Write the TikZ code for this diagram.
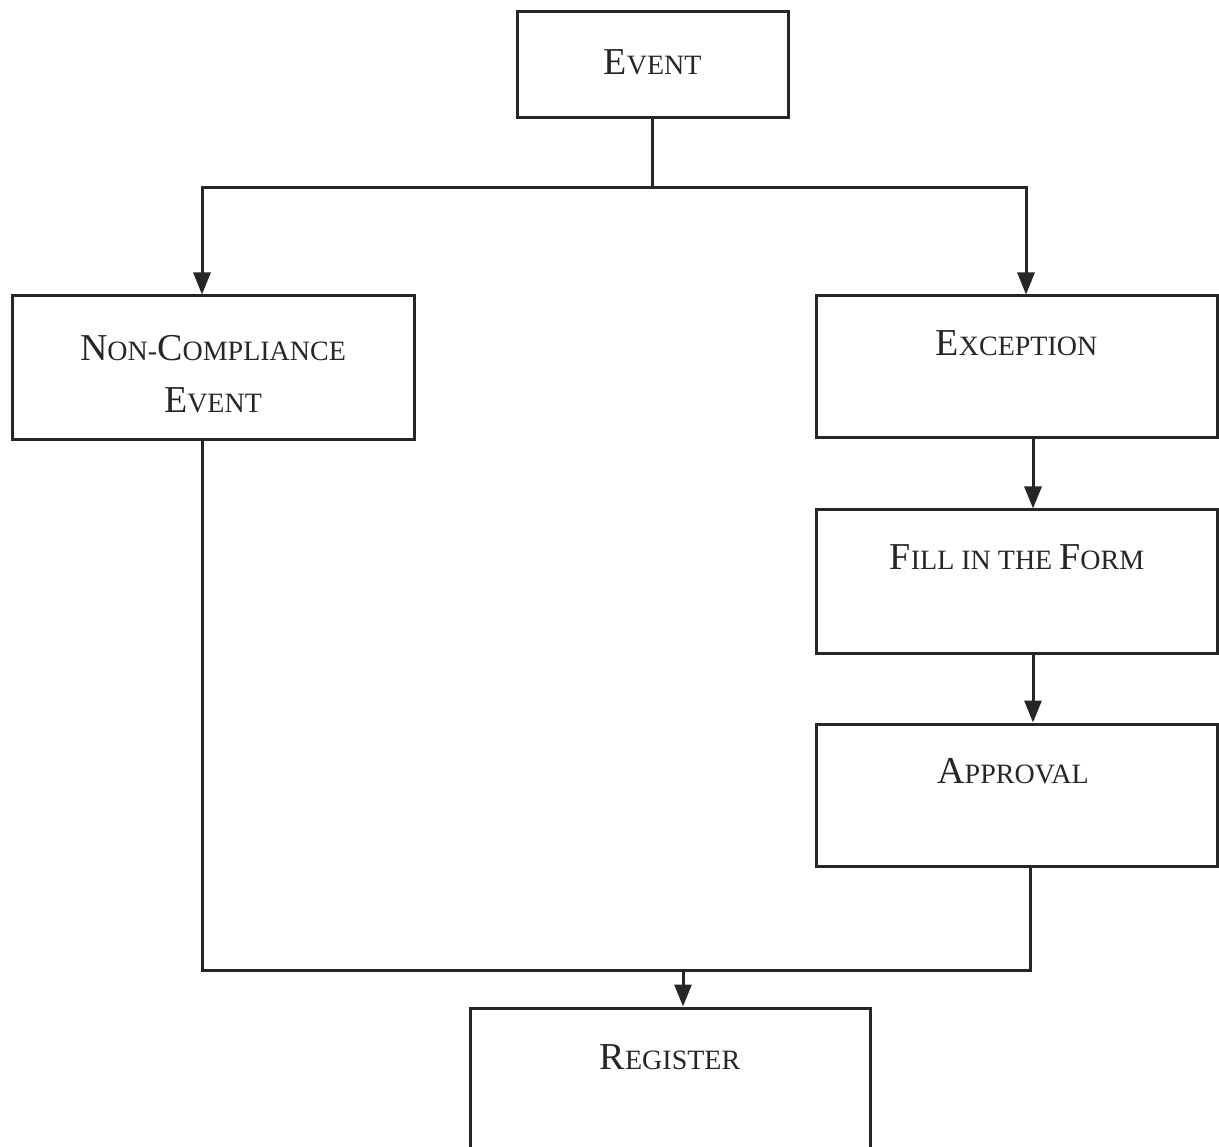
\documentclass[tikz,border=0pt]{standalone}
\usepackage{fontspec}
\setmainfont{Liberation Serif}
\usetikzlibrary{arrows.meta}
\newcommand\bigc[1]{{\fontsize{38}{52}\selectfont #1}}
\newcommand\smc[1]{{\fontsize{28}{52}\selectfont #1}}
\begin{document}
\begin{tikzpicture}[x=1pt,y=-1pt,
  box/.style={draw=black!85, line width=3pt, rectangle, inner sep=0pt},
  lbl/.style={align=center, inner sep=0pt, text=black!85, font=\fontsize{28}{52}\selectfont},
  conn/.style={draw=black!85, line width=3pt, line cap=rect},
  arr/.style={conn, -{Triangle[length=22pt,width=17pt]}}]
\useasboundingbox (0,0) rectangle (1219,1147);
\clip (0,0) rectangle (1219,1147);
% boxes
\node[box, minimum width=271pt, minimum height=106pt] (event) at (652.5,65) {};
\node[box, minimum width=402pt, minimum height=144pt] (noncomp) at (213,368) {};
\node[box, minimum width=401pt, minimum height=142pt] (exc) at (1016.5,367) {};
\node[box, minimum width=401pt, minimum height=143pt] (fill) at (1016.5,581.5) {};
\node[box, minimum width=401pt, minimum height=142pt] (appr) at (1016.5,795) {};
\node[box, minimum width=400pt, minimum height=160pt] (reg) at (670,1088) {};
% texts
\node[lbl] (eventt) at (652.5,62) {\bigc{E}\smc{VENT}};
\node[lbl] (noncompt) at (213,374) {\bigc{N}\smc{ON-}\bigc{C}\smc{OMPLIANCE}\\\bigc{E}\smc{VENT}};
\node[lbl] (exct) at (1016.5,343) {\bigc{E}\smc{XCEPTION}};
\node[lbl] (fillt) at (1017,557) {\bigc{F}\smc{ILL IN THE }\bigc{F}\smc{ORM}};
\node[lbl] (apprt) at (1013,771) {\bigc{A}\smc{PPROVAL}};
\node[lbl] (regt) at (670,1057) {\bigc{R}\smc{EGISTER}};
% junction points
\coordinate (split) at (652.5,188);
\coordinate (sl) at (202,188);
\coordinate (sr) at (1026,188);
\coordinate (ml) at (202,970);
\coordinate (mr) at (1030,970);
\coordinate (mm) at (683,970);
% connectors
\draw[conn] (event.south) -- (split);
\draw[conn] (sl) -- (sr);
\draw[arr] (sl) -- (sl |- noncomp.north);
\draw[arr] (sr) -- (sr |- exc.north);
\draw[arr] (exc.south -| 1033,0) -- (fill.north -| 1033,0);
\draw[arr] (fill.south -| 1033,0) -- (appr.north -| 1033,0);
\draw[conn] (appr.south -| mr) -- (mr) -- (ml) -- (ml |- noncomp.south);
\draw[arr] (mm) -- (mm |- reg.north);
\end{tikzpicture}
\end{document}
